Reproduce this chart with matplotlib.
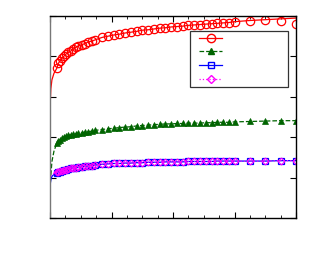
import matplotlib
matplotlib.use("Agg")
import matplotlib.pyplot as plt
from matplotlib.lines import Line2D
from matplotlib.legend_handler import HandlerLine2D
from matplotlib.ticker import MultipleLocator

# marker positions shared by all four series
x_mk = [0.44, 0.54, 0.65, 0.76, 0.91, 1.04, 1.19, 1.37, 1.52, 1.69, 1.84, 2.06,
        2.28, 2.49, 2.71, 2.93, 3.375, 3.75, 4.125, 4.5, 4.875, 5.25, 5.625, 6.0,
        6.375, 6.75, 7.125, 7.5, 7.875, 8.25, 8.625, 9.0, 9.375, 9.75, 10.125,
        10.5, 10.875, 11.25, 11.625, 12.0, 13.0, 14.0, 15.0, 16.0]

red_mk = [3.71, 3.83, 3.89, 3.95, 4.01, 4.06, 4.10, 4.14, 4.18, 4.23, 4.26, 4.29,
          4.32, 4.36, 4.38, 4.41, 4.47, 4.50, 4.53, 4.55, 4.58, 4.60, 4.62, 4.65,
          4.66, 4.68, 4.70, 4.71, 4.73, 4.74, 4.75, 4.77, 4.78, 4.79, 4.80, 4.81,
          4.82, 4.83, 4.84, 4.85, 4.88, 4.90, 4.87, 4.81]
green_mk = [1.86, 1.91, 1.94, 1.97, 2.01, 2.03, 2.05, 2.06, 2.07, 2.09, 2.10, 2.11,
            2.13, 2.14, 2.15, 2.17, 2.19, 2.21, 2.22, 2.24, 2.25, 2.26, 2.28, 2.29,
            2.30, 2.31, 2.32, 2.33, 2.33, 2.34, 2.34, 2.35, 2.35, 2.35, 2.36, 2.36,
            2.37, 2.37, 2.37, 2.38, 2.39, 2.40, 2.41, 2.41]
blue_mk = [1.12, 1.14, 1.15, 1.16, 1.18, 1.19, 1.21, 1.23, 1.24, 1.25, 1.26, 1.27,
           1.28, 1.29, 1.30, 1.31, 1.33, 1.34, 1.35, 1.35, 1.36, 1.36, 1.37, 1.37,
           1.38, 1.38, 1.38, 1.39, 1.39, 1.39, 1.39, 1.40, 1.40, 1.40, 1.40, 1.40,
           1.41, 1.41, 1.41, 1.41, 1.41, 1.41, 1.42, 1.42]
mag_mk = [1.13, 1.15, 1.16, 1.17, 1.19, 1.20, 1.22, 1.23, 1.24, 1.25, 1.26, 1.27,
          1.28, 1.29, 1.30, 1.31, 1.33, 1.34, 1.35, 1.35, 1.36, 1.36, 1.37, 1.37,
          1.38, 1.38, 1.38, 1.39, 1.39, 1.39, 1.39, 1.40, 1.40, 1.40, 1.40, 1.40,
          1.41, 1.41, 1.41, 1.41, 1.41, 1.41, 1.42, 1.42]

# line-only start of each curve (before the first marker)
x_head = [0.0, 0.05, 0.12, 0.25]
red_head = [2.75, 3.20, 3.42, 3.58]
green_head = [0.74, 1.06, 1.40, 1.65]
blue_head = [0.80, 0.95, 1.03, 1.08]
mag_head = [0.95, 1.03, 1.07, 1.10]

# red line runs a bit above the last markers
x_red_tail = [12.0, 13.0, 14.0, 15.0, 16.0]
red_tail = [4.86, 4.89, 4.91, 4.93, 4.95]

fig = plt.figure(figsize=(3.13, 2.63), dpi=100)
ax = fig.add_axes([0.160, 0.171, 0.786, 0.768])

red_x = x_head + x_mk[:39] + x_red_tail
red_y = red_head + red_mk[:39] + red_tail
ax.plot(red_x, red_y, '-', color='r', lw=0.9)
ax.plot(x_mk, red_mk, 'o', color='r', mfc='none', ms=6, mew=0.9)

ax.plot(x_head + x_mk, green_head + green_mk, '--', color='#006400', lw=0.9)
ax.plot(x_mk, green_mk, '^', color='#006400', ms=4.5, mew=0.5)

ax.plot(x_head + x_mk, blue_head + blue_mk, '-', color='b', lw=0.9)
ax.plot(x_mk, blue_mk, 's', color='b', mfc='none', ms=5, mew=0.9)

ax.plot(x_head + x_mk, mag_head + mag_mk, ':', color='#ff00ff', lw=0.9)
ax.plot(x_mk, mag_mk, 'D', color='#ff00ff', mfc='none', ms=3.5, mew=0.8)

ax.set_xlim(0, 16)
ax.set_ylim(0, 5)
ax.xaxis.set_major_locator(MultipleLocator(4))
ax.xaxis.set_minor_locator(MultipleLocator(1))
ax.yaxis.set_major_locator(MultipleLocator(1))
ax.tick_params(which='both', direction='in', top=True, right=True,
               labelbottom=False, labelleft=False)
ax.tick_params(which='major', length=4, width=0.8)
ax.tick_params(which='minor', length=2, width=0.6)
for s in ax.spines.values():
    s.set_linewidth(1.0)
ax.spines['left'].set_color('#777777')

handles = [
    Line2D([], [], color='r', ls='-', marker='o', mfc='none', ms=6, lw=0.9),
    Line2D([], [], color='#006400', ls='--', marker='^', ms=4.5, lw=0.9),
    Line2D([], [], color='b', ls='-', marker='s', mfc='none', ms=5, lw=0.9),
    Line2D([], [], color='#ff00ff', ls=':', marker='D', mfc='none', ms=4, lw=0.9),
]
leg = ax.legend(handles, [' '] * 4, loc='upper left', mode='expand',
                bbox_to_anchor=(0.569, 0.65, 0.398, 0.277), borderaxespad=0,
                fontsize=7, handlelength=3.08, borderpad=0.22, labelspacing=0.40,
                handler_map={Line2D: HandlerLine2D(xpad=0.71)},
                fancybox=False, framealpha=1)
leg.get_frame().set_edgecolor('#333333')
leg.get_frame().set_linewidth(0.9)

fig.savefig('out.png', dpi=100)
